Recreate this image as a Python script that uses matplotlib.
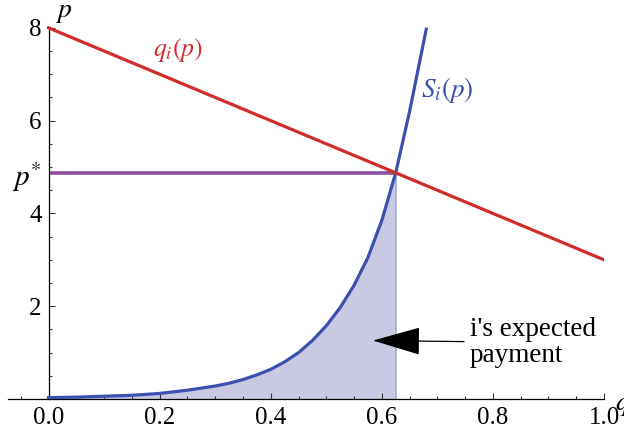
"""Supply/demand sketch: q_i(p), S_i(p) and i's expected payment."""

import matplotlib
matplotlib.use("Agg")
import matplotlib.pyplot as plt
from matplotlib.ticker import FixedLocator, MultipleLocator

# demand line q_i(p): two end points
demand_q = [0.0, 1.0]
demand_p = [8.0, 3.0]

# supply curve S_i(p)
supply_q = [0.0, 0.05, 0.1, 0.15, 0.2, 0.25, 0.3, 0.325, 0.35, 0.375, 0.4,
            0.425, 0.45, 0.475, 0.5, 0.525, 0.55, 0.575, 0.6, 0.625, 0.65,
            0.68]
supply_p = [0.03, 0.04, 0.06, 0.08, 0.12, 0.19, 0.28, 0.34, 0.42, 0.52, 0.64,
            0.80, 1.00, 1.26, 1.58, 1.97, 2.45, 3.05, 3.85, 4.875, 6.2,
            7.97]

# clearing point
q_star = 0.625
p_star = 4.875

x_ticks = [0.0, 0.2, 0.4, 0.6, 0.8, 1.0]
x_tick_labels = ["0.0", "0.2", "0.4", "0.6", "0.8", "1.0"]
y_ticks = [2, 4, 6, 8]
y_tick_labels = ["2", "4", "6", "8"]

RED = "#d22b2c"
BLUE = "#3c50ad"
PURPLE = "#8b4f9e"
FILL = "#c9c9e3"

plt.rcParams.update({
    "font.family": ["Liberation Serif", "DejaVu Serif"],
    "mathtext.fontset": "stix",
    "font.size": 18,
})

fig = plt.figure(figsize=(6.24, 4.34), dpi=100)
ax = fig.add_axes([8 / 624, 0, 596 / 624, 1])
ax.set_xlim(-0.073, 1.0)
ax.set_ylim(-0.754, 8.6)

# shaded payment area under the supply curve up to q*
fill_q = [q for q in supply_q if q <= q_star]
fill_p = [p for q, p in zip(supply_q, supply_p) if q <= q_star]
ax.fill_between(fill_q, 0, fill_p, color=FILL, lw=0, zorder=1)
ax.plot([q_star, q_star], [0, p_star], color="#a9a9d6", lw=1.2, zorder=1.5)

ax.plot([0, q_star], [p_star, p_star], color=PURPLE, lw=2.6, zorder=2,
        solid_capstyle="butt")
ax.plot(supply_q, supply_p, color=BLUE, lw=2.3, zorder=3)
ax.plot(demand_q, demand_p, color=RED, lw=2.3, zorder=4)

ax.text(0.188, 7.52, r"$q_i(p)$", color=RED, fontsize=18.5, va="center")
ax.text(0.67, 6.65, r"$S_i(p)$", color=BLUE, fontsize=19.5, va="center")

ax.annotate("i's expected\npayment", xy=(0.584, 1.26), xytext=(0.758, 1.22),
            ha="left", va="center", fontsize=19.5, linespacing=1.08,
            arrowprops=dict(arrowstyle="-|>,head_length=31,head_width=9",
                            mutation_scale=1, color="black", lw=0.9,
                            shrinkA=2, shrinkB=0))

# Mathematica-like axes through the origin
for side in ("top", "right"):
    ax.spines[side].set_visible(False)
ax.spines["left"].set_position(("data", 0))
ax.spines["bottom"].set_position(("data", 0))
ax.spines["left"].set_bounds(0, 8)
ax.spines["left"].set_linewidth(0.9)
ax.spines["bottom"].set_linewidth(0.9)

ax.set_xticks(x_ticks)
ax.set_xticklabels(x_tick_labels)
ax.xaxis.set_minor_locator(MultipleLocator(0.05))
ax.set_yticks(y_ticks + [p_star])
ax.set_yticklabels(y_tick_labels + [r"$p^{*}$"])
ax.yaxis.set_minor_locator(FixedLocator([v / 2 for v in range(1, 16)]))
ax.tick_params(which="both", direction="in", color="#333333", width=0.8)
ax.tick_params(which="major", length=4.5)
ax.tick_params(which="minor", length=2.5)
ax.tick_params(axis="x", pad=6)
ax.tick_params(axis="y", pad=5)
for lbl in ax.get_yticklabels():
    if lbl.get_text() == r"$p^{*}$":
        lbl.set_fontsize(21)

ax.text(0.012, 8.33, r"$p$", fontsize=20, ha="left", va="center")
ax.text(1.02, -0.15, r"$q$", fontsize=20, ha="left", va="center", clip_on=False)

fig.savefig("out.png", dpi=100)
